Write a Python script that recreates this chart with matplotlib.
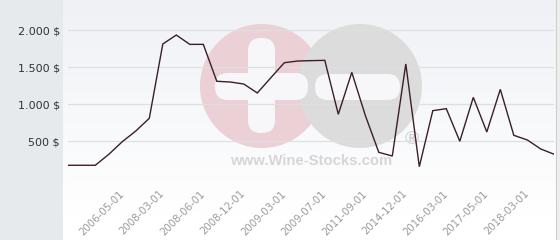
import matplotlib
matplotlib.use("Agg")
import matplotlib.pyplot as plt
import matplotlib.transforms as mtransforms
from matplotlib.patches import Rectangle, Circle, FancyBboxPatch
import numpy as np

W, H, DPI = 560, 240, 100

# price history (USD), one value per category
prices = [176, 176, 176, 324, 495, 639, 811, 1815, 1936, 1810,
          1810, 1311, 1301, 1274, 1153, 1358, 1562, 1585, 1590, 1594,
          865, 1432, 850, 351, 301, 1545, 157, 914, 941, 500,
          1094, 626, 1202, 581, 518, 396, 324]

# only every third category is labelled on the axis
tick_labels = ["2006-05-01", "2008-03-01", "2008-06-01", "2008-12-01",
               "2009-03-01", "2009-07-01", "2011-09-01", "2014-12-01",
               "2016-03-01", "2017-05-01", "2018-03-01"]
TICK_FIRST, TICK_STEP = 4, 3

y_ticks = [0, 500, 1000, 1500, 2000]
Y_MAX = 2400

LINE = "#3a1e29"
GRID = "#dedfe2"
SIDE = "#e6eaed"


def frac(x0, y0, x1, y1):
    # image pixels (y from top) -> figure fraction rect
    return [x0 / W, 1 - y1 / H, (x1 - x0) / W, (y1 - y0) / H]


def price_label(v):
    if v == 0:
        return ""
    return f"{v:,.0f}".replace(",", ".") + " $"


fig = plt.figure(figsize=(W / DPI, H / DPI), dpi=DPI, facecolor="white")

# background layer in pixel coordinates
bg = fig.add_axes([0, 0, 1, 1], zorder=0)
bg.set_axis_off()
top = np.array([0.937, 0.945, 0.961])
grad = np.linspace(0, 1, 200)[:, None, None]
grad = top * (1 - grad) + np.array([1.0, 1.0, 1.0]) * grad
bg.imshow(grad, extent=(63, 556, 215, 0), aspect="auto", interpolation="bilinear")
bg.add_patch(Rectangle((63, 215), 493, 25, color="white", lw=0))
bg.add_patch(Rectangle((0, 0), 63, H, color=SIDE, lw=0))
bg.add_patch(Rectangle((556, 0), 4, H, color="#eeeeee", lw=0))
bg.plot([556, 556], [0, H], color="#cfcfcf", lw=0.8)

# watermark
bg.add_patch(Circle((262, 86), 62, color="#ebd0d6", lw=0))
bg.add_patch(Circle((360, 86), 62, color="#dcdcdd", lw=0))
bar = "#f7f7f9"
bg.add_patch(FancyBboxPatch((215, 73), 93, 27, boxstyle="round,pad=0,rounding_size=13",
                            color=bar, lw=0))
bg.add_patch(FancyBboxPatch((248, 38), 27, 95, boxstyle="round,pad=0,rounding_size=13",
                            color=bar, lw=0))
bg.add_patch(FancyBboxPatch((315, 74), 85, 26, boxstyle="round,pad=0,rounding_size=13",
                            color=bar, lw=0))
bg.text(311, 161, "www.Wine-Stocks.com", ha="center", va="center",
        fontsize=10.7, fontweight="bold", color="#d6d6d8", family="Liberation Sans")
bg.text(412, 140, "\u00ae", ha="center", va="center", fontsize=14,
        fontweight="bold", color="#d2d2d4", family="Liberation Sans")
bg.set_xlim(0, W)
bg.set_ylim(H, 0)

# chart
ax = fig.add_axes(frac(68.3, 178.3 - Y_MAX / 500 * 37, 554.3, 178.3), zorder=1)
ax.set_facecolor("none")
x = np.arange(len(prices))
ax.plot(x, prices, color=LINE, lw=1.0, solid_joinstyle="miter")
ax.set_xlim(0, len(prices) - 1)
ax.set_ylim(0, Y_MAX)

ax.set_yticks(y_ticks)
ax.set_yticklabels([price_label(v) for v in y_ticks])
ax.yaxis.grid(True, color=GRID, lw=0.9)
ax.set_axisbelow(True)

ticks = [TICK_FIRST + TICK_STEP * i for i in range(len(tick_labels))]
ax.set_xticks(ticks)
ax.set_xticklabels(tick_labels, rotation=45, ha="right", va="center",
                   rotation_mode="anchor")
shift = mtransforms.ScaledTranslation(0.09, 0, fig.dpi_scale_trans)
for lbl in ax.get_xticklabels():
    lbl.set_transform(lbl.get_transform() + shift)

ax.tick_params(axis="y", length=0, pad=6, labelsize=8, labelcolor="#333333")
ax.tick_params(axis="x", length=0, pad=10, labelsize=7.3, labelcolor="#9a9a9a")
for s in ax.spines.values():
    s.set_visible(False)

fig.savefig("out.png", dpi=DPI, facecolor="white")
